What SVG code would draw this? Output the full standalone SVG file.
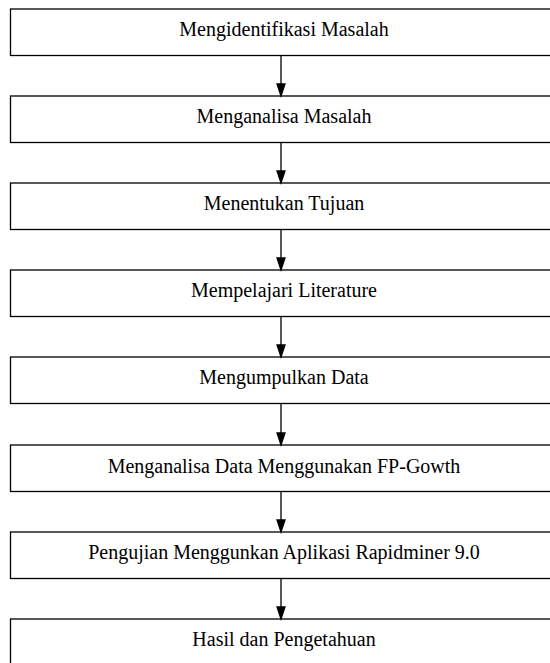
<svg xmlns="http://www.w3.org/2000/svg" width="550" height="663" viewBox="0 0 550 663">
<defs>
<style>
.box{fill:#fff;stroke:#000;stroke-width:1.3}
.lbl{font-family:"Liberation Serif","Times New Roman",serif;font-size:20px;fill:#000;text-anchor:middle}
</style>
</defs>
<rect width="550" height="663" fill="#fff"/>
<g id="n1"><rect class="box" x="10.5" y="9" width="550" height="46.5"/><text class="lbl" x="284" y="36">Mengidentifikasi Masalah</text></g>
<g id="n2"><rect class="box" x="10.5" y="96" width="550" height="46.5"/><text class="lbl" x="284" y="123">Menganalisa Masalah</text></g>
<g id="n3"><rect class="box" x="10.5" y="183" width="550" height="46.5"/><text class="lbl" x="284" y="210">Menentukan Tujuan</text></g>
<g id="n4"><rect class="box" x="10.5" y="270" width="550" height="46.5"/><text class="lbl" x="284" y="297">Mempelajari Literature</text></g>
<g id="n5"><rect class="box" x="10.5" y="357" width="550" height="46.5"/><text class="lbl" x="284" y="384">Mengumpulkan Data</text></g>
<g id="n6"><rect class="box" x="10.5" y="445" width="550" height="46.5"/><text class="lbl" x="284" y="472.5">Menganalisa Data Menggunakan FP-Gowth</text></g>
<g id="n7"><rect class="box" x="10.5" y="532" width="550" height="46.5"/><text class="lbl" x="284" y="559">Pengujian Menggunkan Aplikasi Rapidminer 9.0</text></g>
<g id="n8"><rect class="box" x="10.5" y="619" width="550" height="60"/><text class="lbl" x="284" y="646">Hasil dan Pengetahuan</text></g>
<g id="connectors" stroke="#000" stroke-width="1.3" fill="#000">
<line x1="281" y1="55.5" x2="281" y2="86"/><path d="M277,84 L285,84 L281,96 Z"/>
<line x1="281" y1="142.5" x2="281" y2="173"/><path d="M277,171 L285,171 L281,183 Z"/>
<line x1="281" y1="229.5" x2="281" y2="260"/><path d="M277,258 L285,258 L281,270 Z"/>
<line x1="281" y1="316.5" x2="281" y2="347"/><path d="M277,345 L285,345 L281,357 Z"/>
<line x1="281" y1="403.5" x2="281" y2="435"/><path d="M277,433 L285,433 L281,445 Z"/>
<line x1="281" y1="491.5" x2="281" y2="522"/><path d="M277,520 L285,520 L281,532 Z"/>
<line x1="281" y1="578.5" x2="281" y2="609"/><path d="M277,607 L285,607 L281,619 Z"/>
</g>
</svg>
